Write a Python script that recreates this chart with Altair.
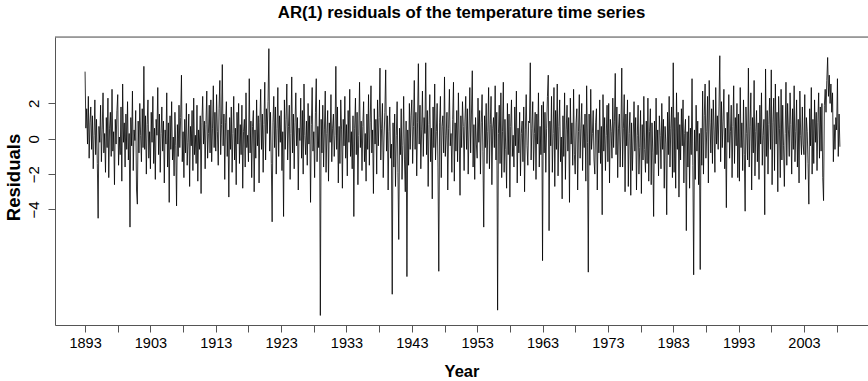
import altair as alt
import pandas as pd

# AR(1) residuals, 8 values per year, one block per decade
d1893 = [3.8, 0.6, 1.7, -0.3, 2.4, -1.1, 0.9, 1.8,
         -0.6, 1.3, -1.7, 0.2, 2.2, -0.9, 1.1, -1.4,
         -4.5, 0.7, -0.2, 1.9, -1.3, 0.5, 2.6, -0.8,
         0.3, -1.9, 1.2, -0.5, 2.3, -2.2, 0.6, 1.5,
         -1.0, 2.8, -0.7, 0.4, -2.6, 1.1, -0.3, 1.6,
         2.5, -1.5, 0.1, -0.9, 1.8, -2.4, 3.1, -0.2,
         0.9, -1.6, 1.4, -0.6, 2.1, -1.2, 0.3, -5.0,
         1.2, -0.4, 2.7, -1.8, 0.5, -0.1, 1.6, -2.9,
         -3.7, 1.0, -0.8, 2.0, 0.2, -1.3, 1.7, -0.5,
         4.1, -0.6, 1.3, -2.0, 0.8, 2.2, -1.1, 0.4]
d1903 = [-1.7, 1.5, -0.2, 2.4, -1.4, 0.6, -2.3, 1.1,
         0.2, 2.9, -0.9, 1.4, -1.9, 0.3, 1.8, -0.7,
         1.0, -2.5, 0.5, -0.3, 2.6, -1.6, 0.9, -3.6,
         1.3, -0.6, 2.1, -1.2, 0.1, -2.1, 1.5, -0.4,
         -3.8, 0.8, -1.0, 1.9, -0.5, 1.2, 3.6, -1.3,
         0.4, -2.2, 1.1, -0.8, 2.0, -1.5, -0.2, 1.4,
         -2.7, 0.7, -0.4, 1.6, -1.8, 2.3, -0.9, 0.2,
         -1.4, 1.9, -2.4, 0.5, -0.6, 1.3, -3.1, 0.9,
         2.4, -0.3, 1.0, -1.7, 0.8, 2.7, -1.1, 0.3,
         1.9, -0.8, 2.2, -1.3, 0.6, 3.0, -0.5, 1.5]
d1913 = [-0.7, 2.5, 0.4, -1.5, 1.7, 3.3, -0.9, 0.8,
         4.2, -0.4, 1.4, -2.3, 0.9, 2.1, -1.0, 0.5,
         -3.3, 1.2, -0.6, 1.8, -1.9, 0.3, 2.4, -1.2,
         0.6, -2.6, 1.5, -0.3, 2.0, -1.4, 0.8, -0.9,
         1.9, -2.8, 0.4, 1.1, -1.6, 2.6, -0.5, 0.2,
         -1.3, 3.4, -0.8, 1.0, -2.2, 0.7, 1.6, -3.0,
         0.5, -1.1, 2.2, -0.4, 1.3, -2.5, 0.9, 2.8,
         -0.6, 1.4, -1.9, 0.8, 3.2, -1.2, 1.7, 0.3,
         2.1, 5.1, -0.7, 1.5, -1.4, -4.7, 0.9, 2.4,
         -0.5, 1.8, -2.0, 0.6, 2.9, -1.0, 1.3, -0.2]
d1923 = [1.6, -1.8, 0.4, -4.4, 2.2, -0.6, 1.1, 3.1,
         -1.2, 0.7, 1.9, -2.3, 0.3, 3.5, -0.8, 1.4,
         -1.7, 0.9, 2.6, -0.4, 1.2, -2.9, 0.6, -0.1,
         2.3, -1.1, 1.6, -2.0, 3.1, 0.2, -0.9, 1.0,
         -1.5, 2.0, -0.3, 1.3, -3.6, 0.8, 2.9, -0.7,
         0.4, -2.2, 1.5, 3.4, -1.3, 0.7, -0.5, 2.2,
         -10.0, 1.1, -0.8, 1.9, -1.6, 0.5, 2.7, -1.9,
         0.3, 1.6, -2.4, 0.9, -0.2, 2.5, -1.3, 0.6,
         1.4, -1.0, 0.2, 4.1, -0.6, 1.8, -2.5, 0.7,
         -1.4, 2.2, 0.5, -2.8, 1.1, -0.4, 2.4, -1.1]
d1933 = [0.8, -2.1, 1.6, -0.2, 2.8, -1.0, 0.4, -1.7,
         1.3, -4.4, 0.6, 2.3, -0.9, 1.5, -2.6, 0.2,
         3.2, -0.5, 1.0, -1.8, 0.7, 2.1, -1.3, 0.3,
         -2.4, 1.4, -0.6, 2.5, -1.5, 0.9, 3.0, -0.8,
         0.5, -3.1, 1.7, -0.3, 1.1, -2.0, 2.2, -0.4,
         1.2, 4.0, -1.2, 0.6, 2.0, -2.2, 0.1, 1.5,
         3.9, -0.7, 1.3, -2.9, 0.4, 1.8, -1.1, -0.3,
         -8.8, 0.9, -1.6, 1.4, -2.7, 0.2, 2.1, -1.9,
         -5.7, 0.6, -0.9, 1.7, -2.3, -0.4, 2.4, -1.2,
         -3.0, 1.0, -7.8, 0.5, -1.5, 2.0, -0.6, 1.3]
d1943 = [2.2, -1.4, 0.7, 3.3, -0.6, 1.5, -2.1, 0.9,
         4.25, -0.3, 1.9, -1.7, 0.5, 2.7, -1.0, 1.2,
         0.3, 4.3, -0.9, 1.6, -2.7, 0.8, 2.5, -1.3,
         0.6, -3.4, 1.8, -0.5, 3.1, -1.2, 0.4, 2.0,
         -1.6, -7.5, 0.9, 2.4, -2.2, 0.7, 1.3, -0.8,
         3.5, -1.0, 0.2, 1.5, -2.9, 0.6, 2.8, -0.4,
         0.3, -1.9, 1.1, 3.2, -2.4, 0.9, -0.7, 1.6,
         -1.3, 2.6, 0.1, -3.2, 1.3, -0.5, 2.1, 0.7,
         -1.8, 1.0, 2.4, -0.6, 1.7, -2.0, 0.5, 2.9,
         -0.8, 1.4, 3.85, -1.6, 0.8, -2.3, 1.2, -0.3]
d1953 = [-1.1, 2.3, -0.2, 1.6, -2.0, 0.9, 2.5, -0.7,
         -5.0, 1.3, -0.5, 2.0, -1.4, 0.4, 2.9, -1.7,
         0.8, 2.4, -2.6, 0.6, 1.2, -0.5, 3.0, -1.2,
         1.5, -9.7, 0.3, 1.9, -1.4, 2.6, -2.2, 0.4,
         3.2, -1.9, 1.1, -0.6, -2.8, 2.0, -0.9, 1.4,
         -3.3, 0.7, 2.2, -1.0, 0.2, -1.6, 1.8, -0.4,
         2.7, -2.5, 0.6, -0.8, 1.5, -2.1, 0.3, 1.0,
         -1.3, 1.8, -3.0, 0.5, 2.5, -0.4, -1.5, 1.0,
         0.9, 4.3, -1.2, 0.6, 2.1, -1.8, 0.3, 1.5,
         -2.3, 1.4, -0.3, 2.6, -1.6, 0.7, -0.9, 1.9]
d1963 = [-6.9, 2.1, -0.8, 1.5, -1.9, 0.6, 2.4, 3.6,
         -5.2, 1.0, -0.4, 2.4, -1.9, 0.3, 2.9, -2.7,
         1.6, -0.6, 3.1, -2.1, 0.7, 2.2, -1.3, 0.1,
         -3.4, 1.3, -1.0, 2.6, -2.3, 0.5, 1.9, -0.7,
         1.2, -3.6, 2.3, -0.3, 0.9, -1.5, 2.8, -0.9,
         -2.0, 0.9, 1.7, -2.9, 0.4, 2.5, -1.1, 0.6,
         2.0, -1.8, 0.8, -0.5, 1.4, -2.4, 3.0, -0.2,
         -7.55, 1.4, -1.5, 2.8, -0.6, 0.3, 1.6, -1.2,
         -2.0, 0.9, 1.7, -2.9, 0.5, -0.8, 2.2, -1.4,
         0.7, -4.3, 2.5, -0.7, 1.2, -1.8, 0.2, 1.9]
d1973 = [-1.3, 2.0, -2.5, 1.1, 0.4, -1.1, 2.3, -0.5,
         1.0, 3.7, -0.9, 1.8, -2.2, 0.6, 1.4, -1.6,
         0.5, 4.0, -1.6, 0.6, 2.5, -3.0, 1.4, -0.4,
         2.2, -2.7, 0.3, 1.5, -3.2, 0.9, -1.8, 0.1,
         2.1, -0.7, 1.2, -2.9, 0.2, 1.9, -2.0, -0.5,
         1.6, -3.1, 0.8, -1.2, 2.4, -0.6, -1.9, 1.0,
         -1.4, 2.3, -2.4, 0.4, 1.7, -2.6, 0.9, -0.8,
         -4.4, 1.0, -1.4, 2.3, -0.9, 0.5, -2.1, 1.3,
         0.2, -1.7, 2.0, -0.6, 1.1, -2.8, 0.7, -0.3,
         -4.3, 1.5, -0.9, 2.4, -1.6, 0.6, 1.8, -2.2]
d1983 = [4.3, -1.9, 1.2, -2.8, 2.6, -0.6, 1.5, -3.3,
         0.8, -1.2, 1.7, -0.4, 2.2, -2.5, 0.3, 1.1,
         -5.2, 0.4, -1.6, 1.3, -2.8, 0.6, -0.9, 3.4,
         -1.5, -7.7, 0.5, -2.3, 1.9, -0.7, 1.0, -2.6,
         0.3, -7.4, 0.6, -1.5, 2.7, -2.0, 1.3, 3.1,
         -1.1, 0.4, 2.4, -2.5, 3.3, 0.9, -0.8, 1.7,
         -1.4, 2.2, 0.5, -1.9, 2.9, -0.3, 1.3, -0.6,
         1.8, 4.7, -1.3, 2.1, -0.5, 1.0, 2.8, -1.7,
         0.6, -3.9, 1.5, -0.2, 2.5, -1.1, 0.4, 1.9,
         -2.2, 0.7, 3.0, -1.4, 1.2, -0.4, 2.0, -2.2]
d1993 = [1.4, -2.4, 2.9, -0.5, 0.9, -1.8, 2.2, -0.9,
         -4.1, 1.8, 0.3, -1.2, 4.0, -1.6, 0.7, 2.6,
         -2.9, 1.2, -0.8, 3.3, -2.1, 0.4, 1.6, -1.3,
         0.9, -2.3, 1.9, -0.3, 2.6, -1.5, 0.2, 1.1,
         -4.3, 3.95, -1.0, 1.6, -2.0, 0.8, 2.3, -0.6,
         3.9, -2.6, 0.9, 2.3, -1.8, 3.1, -0.3, 1.5,
         -3.0, 2.4, 0.6, -2.2, 2.8, -1.2, 1.9, -0.4,
         -2.7, 0.3, 3.2, -1.5, 2.0, 0.5, -1.0, 2.6,
         0.8, -2.0, 1.7, -0.6, 3.0, -1.3, 0.4, 2.2,
         -1.6, 1.1, -2.5, 2.7, 0.2, -0.9, 1.8, -0.3]
d2003 = [-0.9, 2.5, -2.3, 1.2, 0.4, -1.4, -3.7, 1.7,
         -0.4, 2.9, -2.0, 1.1, -1.4, 2.2, -0.2, 1.5,
         -1.8, 0.9, 2.6, -1.1, 1.8, -0.7, 2.0, -2.2,
         -3.5, 1.9, 2.8, 1.5, 3.3, 4.6, 2.4, 3.6,
         2.0, 3.1, 1.5, 2.6, -1.3, 0.8, -0.6, 1.2,
         0.5, 3.4, -1.0, 1.4, -0.45]

blocks = [(1893, d1893), (1903, d1903), (1913, d1913), (1923, d1923),
          (1933, d1933), (1943, d1943), (1953, d1953), (1963, d1963),
          (1973, d1973), (1983, d1983), (1993, d1993), (2003, d2003)]
PER_YEAR = 8

x_ticks = [1893, 1898, 1903, 1908, 1913, 1918, 1923, 1928, 1933, 1938,
           1943, 1948, 1953, 1958, 1963, 1968, 1973, 1978, 1983, 1988,
           1993, 1998, 2003, 2008]
y_ticks = [-4, -2, 0, 2]
title_text = "AR(1) residuals of the temperature time series"

rows = []
for start, vals in blocks:
    for k, v in enumerate(vals):
        rows.append({"year": start + k / PER_YEAR, "resid": v})
df = pd.DataFrame(rows)

FONT = "Liberation Sans"
FRAME = "#555555"
W, H = 813, 288

line = alt.Chart(df).mark_line(color="black", strokeWidth=0.8).encode(
    x=alt.X("year:Q",
            scale=alt.Scale(domain=[1888.4, 2012.8], nice=False, zero=False),
            axis=alt.Axis(values=x_ticks, format="d",
                          labelExpr="(datum.value - 1893) % 10 == 0 ? datum.label : ''",
                          title="Year", grid=False,
                          domainColor=FRAME, tickColor=FRAME, tickSize=7,
                          labelFont=FONT, labelFontSize=14.5, labelColor="black",
                          labelPadding=4, labelFlush=False,
                          titleFont=FONT, titleFontSize=16.5, titleFontWeight="bold",
                          titleColor="black", titleBaseline="alphabetic",
                          titleY=51, titleX=W / 2)),
    y=alt.Y("resid:Q",
            scale=alt.Scale(domain=[-10.54, 5.76], nice=False, zero=False),
            axis=alt.Axis(values=y_ticks, grid=False,
                          title="Residuals",
                          domainColor=FRAME, tickColor=FRAME, tickSize=7,
                          labelFont=FONT, labelFontSize=15, labelColor="black",
                          labelAngle=270, labelAlign="center",
                          labelBaseline="alphabetic", labelPadding=10,
                          labelFlush=False,
                          titleFont=FONT, titleFontSize=18.5, titleFontWeight="bold",
                          titleColor="black", titleAngle=270,
                          titleBaseline="alphabetic", titleAlign="center",
                          titleX=-36, titleY=140)),
)

top_border = alt.Chart(pd.DataFrame({"a": [0]})).mark_rule(
    color=FRAME, strokeWidth=1).encode(
    x=alt.value(0), x2=alt.value(W), y=alt.value(0))

title = alt.Chart(pd.DataFrame({"t": [title_text]})).mark_text(
    font=FONT, fontSize=16.8, fontWeight="bold", color="black",
    align="center", baseline="alphabetic").encode(
    text="t:N", x=alt.value(W / 2), y=alt.value(-19))

chart = alt.layer(line, top_border, title).properties(
    width=W, height=H,
    autosize=alt.AutoSizeParams(type="none"),
    padding={"left": 55, "top": 37, "right": 0, "bottom": 56},
).configure_view(stroke=None).configure(background="white")

chart.save("out.html", embed_options={"renderer": "svg", "actions": False})
